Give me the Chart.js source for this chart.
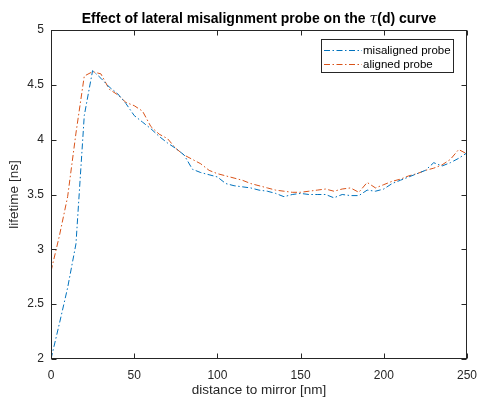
<!DOCTYPE html>
<html>
<head>
<meta charset="utf-8">
<script src="https://cdn.jsdelivr.net/npm/chart.js@4/dist/chart.umd.min.js"></script>
<style>
  html, body { margin: 0; padding: 0; background: #fff; }
  #tau { display: block; }
</style>
</head>
<body>
<canvas id="tau" width="477" height="398"></canvas>
<script>
// distance to mirror [nm], sampled every 5 nm
const distance = [
    0, 5, 10, 15, 20, 25, 30, 35, 40, 45,
    50, 55, 60, 65, 70, 75, 80, 85, 90, 95,
    100, 105, 110, 115, 120, 125, 130, 135, 140, 145,
    150, 155, 160, 165, 170, 175, 180, 185, 190, 195,
    200, 205, 210, 215, 220, 225, 230, 235, 240, 245, 250
];

// lifetime [ns]
const misaligned = [
    2.00, 2.32, 2.65, 3.05, 4.22, 4.63, 4.56, 4.48, 4.42, 4.33,
    4.22, 4.16, 4.10, 4.03, 3.97, 3.92, 3.86, 3.73, 3.70, 3.68,
    3.66, 3.60, 3.58, 3.57, 3.56, 3.54, 3.53, 3.51, 3.48, 3.50,
    3.51, 3.50, 3.50, 3.50, 3.47, 3.50, 3.49, 3.49, 3.54, 3.53,
    3.55, 3.60, 3.63, 3.66, 3.69, 3.72, 3.79, 3.76, 3.79, 3.83, 3.88
];

const aligned = [
    2.80, 3.12, 3.48, 4.06, 4.58, 4.62, 4.60, 4.46, 4.41, 4.34,
    4.31, 4.26, 4.12, 4.05, 4.01, 3.92, 3.86, 3.82, 3.78, 3.72,
    3.69, 3.67, 3.65, 3.63, 3.60, 3.58, 3.56, 3.54, 3.53, 3.52,
    3.52, 3.53, 3.54, 3.55, 3.53, 3.55, 3.56, 3.52, 3.61, 3.56,
    3.59, 3.62, 3.64, 3.67, 3.69, 3.72, 3.74, 3.77, 3.82, 3.91, 3.87
];

const xTicks = [0, 50, 100, 150, 200, 250];
const yTicks = [2, 2.5, 3, 3.5, 4, 4.5, 5];

const seriesLabels = ['misaligned probe', 'aligned probe'];
const seriesColors = ['#0072BD', '#D95319'];

const AXIS = '#262626';
const FONT = '"Liberation Sans", Arial, Helvetica, sans-serif';
const DASHDOT = [6, 2.5, 1.5, 2.5];

const toPoints = (ys) => ys.map((y, i) => ({ x: distance[i], y }));

// box around the axes, inward ticks on all four sides, legend and texts
const axesBox = {
    id: 'axesBox',
    afterDatasetsDraw(chart) {
        const { ctx, chartArea: a, scales } = chart;
        const L = Math.round(a.left) + 0.5, R = Math.round(a.right) - 0.5;
        const T = Math.round(a.top) + 0.5, B = Math.round(a.bottom) - 0.5;
        const tl = 5;

        ctx.save();
        ctx.strokeStyle = AXIS;
        ctx.lineWidth = 1;
        ctx.strokeRect(L, T, R - L, B - T);

        ctx.beginPath();
        xTicks.forEach(v => {
            const px = Math.round(scales.x.getPixelForValue(v)) + 0.5;
            ctx.moveTo(px, B); ctx.lineTo(px, B - tl);
            ctx.moveTo(px, T); ctx.lineTo(px, T + tl);
        });
        yTicks.forEach(v => {
            const py = Math.round(scales.y.getPixelForValue(v)) + 0.5;
            ctx.moveTo(L, py); ctx.lineTo(L + tl, py);
            ctx.moveTo(R, py); ctx.lineTo(R - tl, py);
        });
        ctx.stroke();

        // legend
        const lx = 321.5, ly = 39.5, lw = 132, lh = 33;
        ctx.fillStyle = '#fff';
        ctx.fillRect(lx, ly, lw, lh);
        ctx.strokeRect(lx, ly, lw, lh);
        ctx.font = '11.5px ' + FONT;
        ctx.textBaseline = 'middle';
        chart.data.datasets.forEach((ds, i) => {
            const y = Math.round(ly + 10 + i * 14.5) + 0.5;
            ctx.strokeStyle = ds.borderColor;
            ctx.setLineDash(DASHDOT);
            ctx.beginPath();
            ctx.moveTo(324, y);
            ctx.lineTo(362, y);
            ctx.stroke();
            ctx.setLineDash([]);
            ctx.fillStyle = '#000';
            ctx.fillText(ds.label, 363, y + 0.5);
        });

        // title with italic tau
        ctx.fillStyle = '#000';
        ctx.textBaseline = 'alphabetic';
        const parts = [
            ['bold 14px ' + FONT, 'Effect of lateral misalignment probe on the '],
            ['italic 14px "DejaVu Serif", serif', 'τ'],
            ['bold 14px ' + FONT, '(d) curve']
        ];
        let total = 0;
        parts.forEach(p => { ctx.font = p[0]; total += ctx.measureText(p[1]).width; });
        let tx = (a.left + a.right) / 2 - total / 2;
        ctx.textAlign = 'left';
        parts.forEach(p => {
            ctx.font = p[0];
            ctx.fillText(p[1], tx, 23);
            tx += ctx.measureText(p[1]).width;
        });

        // axis titles
        ctx.fillStyle = AXIS;
        ctx.font = '13.5px ' + FONT;
        ctx.textAlign = 'center';
        ctx.textBaseline = 'middle';
        ctx.fillText('distance to mirror [nm]', (a.left + a.right) / 2, 390);
        ctx.translate(14, (a.top + a.bottom) / 2);
        ctx.rotate(-Math.PI / 2);
        ctx.fillText('lifetime [ns]', 0, 0);
        ctx.restore();
    }
};

new Chart(document.getElementById('tau'), {
    type: 'line',
    data: {
        datasets: [
            {
                label: seriesLabels[0],
                data: toPoints(misaligned),
                borderColor: seriesColors[0],
                borderWidth: 1,
                borderDash: DASHDOT,
                pointRadius: 0,
                tension: 0
            },
            {
                label: seriesLabels[1],
                data: toPoints(aligned),
                borderColor: seriesColors[1],
                borderWidth: 1,
                borderDash: DASHDOT,
                pointRadius: 0,
                tension: 0
            }
        ]
    },
    options: {
        responsive: false,
        animation: false,
        layout: { padding: { top: 30, right: 0, left: 0, bottom: 0 } },
        plugins: {
            legend: { display: false },
            tooltip: { enabled: false }
        },
        scales: {
            x: {
                type: 'linear',
                min: 0,
                max: 250,
                afterBuildTicks: (s) => { s.ticks = xTicks.map(v => ({ value: v })); },
                afterFit: (s) => {
                    s.height = 39;
                    s.paddingLeft = 0;
                    s.paddingRight = 10;
                },
                grid: { display: false, drawTicks: false },
                border: { display: false },
                ticks: { color: AXIS, font: { family: FONT, size: 12 }, padding: 9, maxRotation: 0 }
            },
            y: {
                min: 2,
                max: 5,
                afterBuildTicks: (s) => { s.ticks = yTicks.map(v => ({ value: v })); },
                afterFit: (s) => {
                    s.width = 51;
                    s.paddingTop = 0;
                    s.paddingBottom = 0;
                },
                grid: { display: false, drawTicks: false },
                border: { display: false },
                ticks: {
                    color: AXIS,
                    font: { family: FONT, size: 12 },
                    padding: 7,
                    callback: (v) => String(v)
                }
            }
        }
    },
    plugins: [axesBox]
});
</script>
</body>
</html>
